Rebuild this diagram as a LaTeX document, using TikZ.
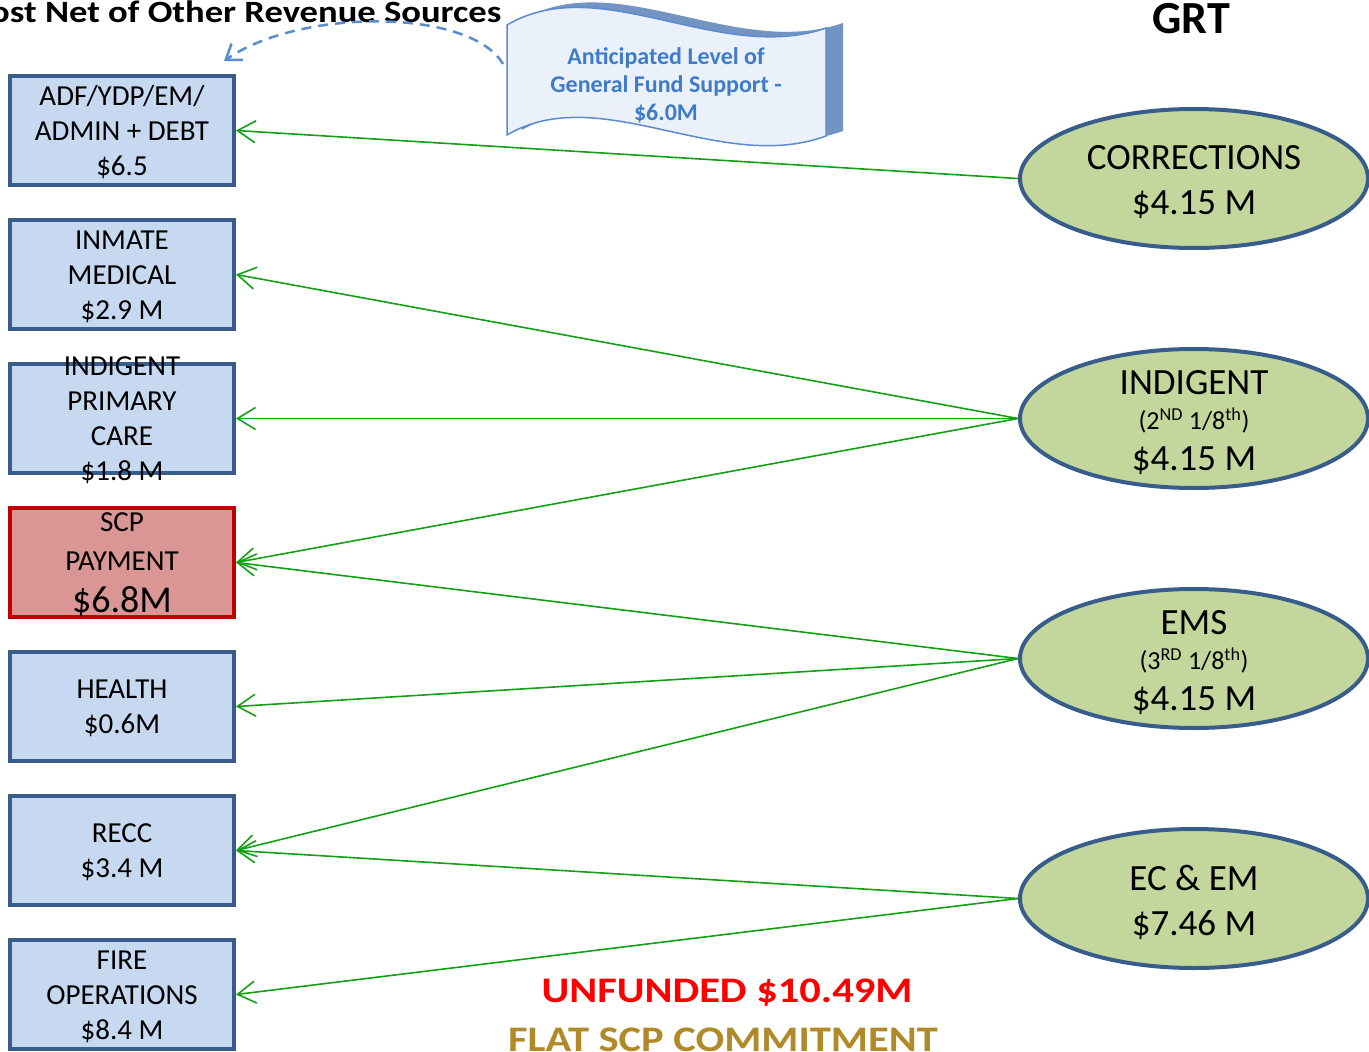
\documentclass[tikz,border=0pt]{standalone}
\usepackage{fontspec}
\setmainfont{Carlito}
\newfontfamily\widefont[FakeStretch=1.18]{Carlito}
\usepackage{tikz}
\usetikzlibrary{arrows.meta,positioning,shapes.geometric}
\definecolor{boxblue}{HTML}{C6D9F1}
\definecolor{boxedge}{HTML}{385D8A}
\definecolor{scpred}{HTML}{D99694}
\definecolor{scpedge}{HTML}{C00000}
\definecolor{grtgreen}{HTML}{C3D69B}
\definecolor{arrowgreen}{HTML}{14A014}
\definecolor{wavefill}{HTML}{EBF1FA}
\definecolor{waveedge}{HTML}{5B8BD0}
\definecolor{waveshadow}{HTML}{7393C2}
\definecolor{wavetext}{HTML}{3E7BCB}
\definecolor{flatgold}{HTML}{B08A28}

\begin{document}
\begin{tikzpicture}[x=1pt,y=-1pt,
      box_node/.style={
         rectangle,
         draw=boxedge,
         fill=boxblue,
         line width=4pt,
         inner sep=0pt,
         minimum width=224pt,
         minimum height=109pt},
      scp_node/.style={
         box_node,
         draw=scpedge,
         fill=scpred},
      box_text/.style={
         align=center,
         yshift=-2pt,
         font=\fontsize{29}{35}\selectfont},
      ellipse_node/.style={
         ellipse,
         draw=boxedge,
         fill=grtgreen,
         line width=4pt,
         inner sep=0pt,
         minimum width=348pt,
         minimum height=139pt},
      ellipse_text/.style={
         align=center,
         yshift=-4pt,
         font=\fontsize{37}{45}\selectfont},
      note_text/.style={
         anchor=base,
         font=\widefont\bfseries\fontsize{36}{42}\selectfont},
      arrow_green/.style={
        -{Straight Barb[length=18pt,width=22pt]},
        draw=arrowgreen,
        line width=1.6pt,
        },
      arrow_dashed/.style={
        -{Straight Barb[length=14pt,width=20pt]},
        draw=waveedge,
        line width=2.5pt,
        dash pattern=on 10pt off 7pt,
        }
]
      \useasboundingbox (0,0) rectangle (1369,1052);

      %headings
      \node[note_text,anchor=base east,font=\widefont\bfseries\fontsize{31}{37}\selectfont] (title) at (505,22) {ost Net of Other Revenue Sources};
      \node[anchor=base,font=\bfseries\fontsize{46}{52}\selectfont] (grt) at (1191,33) {GRT};

      %uses
      \node[box_node] (adf) at (122,130.5) {};
      \node[box_node,below=31pt of adf] (inm) {};
      \node[box_node,below=31pt of inm] (ipc) {};
      \node[scp_node,below=31pt of ipc] (scp) {};
      \node[box_node,below=31pt of scp] (hlth) {};
      \node[box_node,below=31pt of hlth] (recc) {};
      \node[box_node,below=31pt of recc] (fire) {};

      \node[box_text] at (adf) {ADF/YDP/EM/\\ADMIN + DEBT\\\$6.5};
      \node[box_text] at (inm) {INMATE\\MEDICAL\\\$2.9 M};
      \node[box_text] at (ipc) {INDIGENT\\PRIMARY\\CARE\\\$1.8 M};
      \node[box_text] at (scp) {SCP\\[4pt]PAYMENT\\[7pt]{\fontsize{38}{41}\selectfont\$6.8M}};
      \node[box_text] at (hlth) {HEALTH\\\$0.6M};
      \node[box_text] at (recc) {RECC\\\$3.4 M};
      \node[box_text] at (fire) {FIRE\\OPERATIONS\\\$8.4 M};

      %grt sources
      \node[ellipse_node] (corr) at (1194,178.5) {};
      \node[ellipse_node,below=97pt of corr] (indg) {};
      \node[ellipse_node,below=97pt of indg] (ems) {};
      \node[ellipse_node,below=97pt of ems] (ecem) {};

      \node[ellipse_text] at (corr) {CORRECTIONS\\\$4.15 M};
      \node[ellipse_text] at (indg) {INDIGENT\\[-10pt]{\fontsize{26}{28}\selectfont(2\textsuperscript{ND} 1/8\textsuperscript{th})}\\[-4pt]\$4.15 M};
      \node[ellipse_text] at (ems) {EMS\\[-10pt]{\fontsize{26}{28}\selectfont(3\textsuperscript{RD} 1/8\textsuperscript{th})}\\[-4pt]\$4.15 M};
      \node[ellipse_text] at (ecem) {EC \& EM\\\$7.46 M};

    \foreach \i/\j in {% source/use
       corr/adf, indg/inm, indg/ipc, indg/scp,
       ems/scp, ems/hlth, ems/recc,
       ecem/recc, ecem/fire}
 \draw [arrow_green] (\i.west) -- (\j.east);

      %general fund banner
      \fill[waveshadow] (522,20) .. controls (615,-35) and (735,60) .. (843,23)
         -- (843,131) .. controls (735,170) and (615,75) .. (522,130) -- cycle;
      \draw[waveedge,fill=wavefill,line width=1.5pt] (507,25) .. controls (600,-30) and (720,65) .. (826,28)
         -- (826,136) .. controls (720,175) and (600,80) .. (507,135) -- cycle;
      \node[align=center,text=wavetext,font=\bfseries\fontsize{24}{28}\selectfont] (fund) at (666,85)
         {Anticipated Level of\\General Fund Support -\\\$6.0M};
      \coordinate (fund_w) at (503,64);
      \coordinate (adf_top) at (224,61);
      \draw[arrow_dashed] (fund_w) .. controls (470,8) and (300,8) .. (adf_top);

      %bottom notes
      \node[note_text,text=red] (unf) at (727,1002) {UNFUNDED \$10.49M};
      \node[note_text,text=flatgold] (flat) at (723,1051) {FLAT SCP COMMITMENT};
\end{tikzpicture}
\end{document}
